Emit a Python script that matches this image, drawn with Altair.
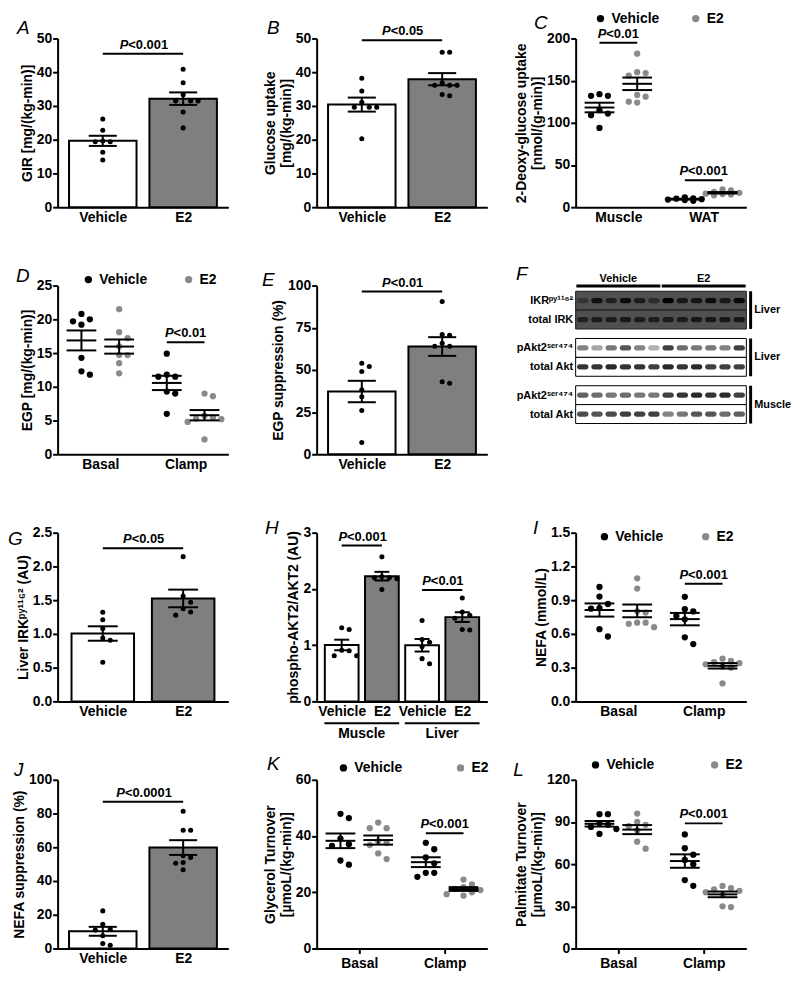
import json
import altair as alt
import pandas as pd

FONT = "Liberation Sans"
PW, PH = 172, 170
COL_GAP, ROW_GAP = 89, 79
GRAY_DOT = "#8a8a8a"
GRAY_BAR = "#7f7f7f"

# ---------------- values ----------------
# A  GIR
A_names = ["Vehicle", "E2"]
A_vehicle = [26.1, 22.8, 19.6, 19.4, 19.4, 16.3, 14.0]
A_e2 = [40.9, 36.9, 33.3, 31.5, 31.5, 31.5, 28.2, 23.5]
A_yticks = [0, 10, 20, 30, 40, 50]
A_sig = [(0, 1, 45.5, "P<0.001")]

# B  Glucose uptake
B_names = ["Vehicle", "E2"]
B_vehicle = [38.2, 34.4, 31.1, 29.6, 29.6, 29.6, 20.3]
B_e2 = [45.9, 45.9, 36.9, 36.1, 36.1, 36.1, 33.4, 33.0]
B_yticks = [0, 10, 20, 30, 40, 50]
B_sig = [(0, 1, 49.5, "P<0.05")]

# C  2-Deoxy-glucose uptake
C_cats = ["Muscle", "WAT"]
C_vehicle = [[134, 132, 132, 115, 111, 109, 94], [11.5, 10.5, 10, 9.5, 9, 8.5, 7.5]]
C_e2 = [[182, 160, 159, 156, 133, 131, 125, 124], [21, 20, 18, 17, 16, 15.5, 15, 14]]
C_yticks = [0, 50, 100, 150, 200]
C_sig = [(0, 1, 195, "P<0.01"), (2, 3, 32, "P<0.001")]

# D  EGP
D_cats = ["Basal", "Clamp"]
D_vehicle = [[20.8, 20.0, 19.7, 19.2, 14.3, 12.3, 11.8], [14.9, 11.8, 11.5, 11.5, 9.3, 9.0, 6.0]]
D_e2 = [[21.5, 18.1, 17.2, 16.0, 14.7, 14.7, 13.5, 12.0], [9.0, 8.6, 5.7, 5.5, 5.3, 5.2, 4.8, 2.2]]
D_yticks = [0, 5, 10, 15, 20, 25]
D_sig = [(2, 3, 16.6, "P<0.01")]

# E  EGP suppression
E_names = ["Vehicle", "E2"]
E_vehicle = [54.0, 52.0, 49.1, 38.3, 34.1, 25.9, 7.0]
E_e2 = [90.5, 71.0, 70.6, 65.8, 64.0, 64.0, 43.0, 42.1]
E_yticks = [0, 25, 50, 75, 100]
E_sig = [(0, 1, 96.5, "P<0.01")]

# F  western blot (relative band intensity per lane)
F_lane_groups = ["Vehicle"] * 6 + ["E2"] * 6
F_rows = ["IKR\u1d56\u02b8\u00b9\u00b9\u2076\u00b2", "total IRK",
          "pAkt2\u02e2\u1d49\u02b3\u2074\u2077\u2074", "total Akt",
          "pAkt2\u02e2\u1d49\u02b3\u2074\u2077\u2074", "total Akt"]
F_row_box = [0, 0, 1, 1, 2, 2]
F_box_tissue = ["Liver", "Liver", "Muscle"]
F_intensity = [
    [0.35, 0.80, 0.60, 0.85, 0.65, 0.45, 1.00, 0.70, 0.75, 0.85, 0.70, 0.90],
    [0.60, 0.65, 0.65, 0.70, 0.65, 0.65, 0.65, 0.65, 0.70, 0.70, 0.70, 0.70],
    [0.55, 0.40, 0.60, 0.75, 0.55, 0.35, 0.85, 0.65, 0.60, 0.60, 0.55, 0.85],
    [0.90, 0.90, 0.95, 0.90, 0.90, 0.85, 0.95, 0.90, 0.95, 0.85, 0.85, 0.85],
    [0.70, 0.65, 0.60, 0.65, 0.60, 0.60, 0.85, 0.90, 0.95, 0.90, 0.95, 0.85],
    [0.80, 0.75, 0.80, 0.85, 0.85, 0.85, 0.55, 0.60, 0.75, 0.75, 0.65, 0.70],
]

# G  Liver IRK pY1162
G_names = ["Vehicle", "E2"]
G_vehicle = [1.32, 1.21, 1.08, 0.94, 0.905, 0.58]
G_e2 = [2.145, 1.563, 1.468, 1.373, 1.326, 1.278]
G_yticks = [0, 0.5, 1.0, 1.5, 2.0, 2.5]
G_sig = [(0, 1, 2.27, "P<0.05")]

# H  phospho-AKT2/AKT2
H_names = ["Vehicle", "E2", "Vehicle", "E2"]
H_values = [[1.31, 1.28, 0.91, 0.90, 0.81, 0.81],
            [2.57, 2.22, 2.20, 2.20, 2.18, 1.99],
            [1.44, 1.10, 1.05, 0.97, 0.76, 0.67],
            [1.84, 1.59, 1.53, 1.48, 1.28, 1.27]]
H_tissues = [("Muscle", [0, 1]), ("Liver", [2, 3])]
H_yticks = [0, 1, 2, 3]
H_sig = [(0, 1, 2.77, "P<0.001"), (2, 3, 1.98, "P<0.01")]

# I  NEFA
I_cats = ["Basal", "Clamp"]
I_vehicle = [[1.017, 0.932, 0.866, 0.83, 0.824, 0.642, 0.577], [0.93, 0.82, 0.80, 0.76, 0.73, 0.57, 0.51]]
I_e2 = [[1.094, 1.003, 0.80, 0.79, 0.70, 0.70, 0.69, 0.66], [0.38, 0.36, 0.35, 0.34, 0.33, 0.31, 0.30, 0.16]]
I_yticks = [0, 0.3, 0.6, 0.9, 1.2, 1.5]
I_sig = [(2, 3, 1.045, "P<0.001")]

# J  NEFA suppression
J_names = ["Vehicle", "E2"]
J_vehicle = [22.3, 14.3, 11.4, 10.9, 7.6, 2.9, 1.9]
J_e2 = [81.3, 70.1, 70.1, 55.0, 54.0, 51.0, 50.5, 46.7]
J_yticks = [0, 20, 40, 60, 80, 100]
J_sig = [(0, 1, 87, "P<0.0001")]

# K  Glycerol turnover
K_cats = ["Basal", "Clamp"]
K_vehicle = [[47.9, 46.4, 39.1, 37.1, 36.5, 31.3, 29.8], [37.6, 35.3, 32.4, 30.3, 26.9, 26.9, 25.5]]
K_e2 = [[44.8, 42.8, 42.8, 38.2, 37.5, 36.8, 33.8, 31.8], [24.5, 22.8, 21.8, 21.2, 20.8, 20.0, 19.3, 18.8]]
K_yticks = [0, 20, 40, 60]
K_sig = [(2, 3, 41, "P<0.001")]

# L  Palmitate turnover
L_cats = ["Basal", "Clamp"]
L_vehicle = [[95.5, 95.5, 89, 88, 86.5, 85, 81.5], [81.1, 71.3, 66.7, 63, 60, 48.7, 44.6]]
L_e2 = [[96, 90, 88, 87, 84, 76, 71], [44.5, 43, 42, 41, 40, 38, 30, 29.5]]
L_yticks = [0, 30, 60, 90, 120]
L_sig = [(2, 3, 89, "P<0.001")]

# ---------------- helpers ----------------
CHAR_W = {"P": 0.667, "<": 0.584, ".": 0.278}
SIG_SIZE = 13


def tw(s, size):
    return sum(CHAR_W.get(c, 0.556) for c in s) * size


def swarm(values, ppu, step, dmin, maxk=2):
    """Deterministic compact beeswarm offsets (pixels)."""
    order = sorted(range(len(values)), key=lambda i: -values[i])
    placed, offs = [], [0.0] * len(values)
    cands = [0.0]
    for j in range(1, maxk + 1):
        cands += [j * step, -j * step]
    for i in order:
        yp = values[i] * ppu
        best, bestd = cands[0], -1.0
        for c in cands:
            d = min((((c - px) ** 2 + (yp - py) ** 2) ** 0.5 for px, py in placed), default=1e9)
            if d >= dmin:
                best = c
                break
            if d > bestd:
                best, bestd = c, d
        placed.append((best, yp))
        offs[i] = best
    return offs


def panel(letter, ldx, ldy, slots, ndom, xnames, yticks, ytitle, sig, kind,
          yfmt=None, legend=None, xticks=False, bar_w=68, cap_hw=15, below=None):
    bar = kind == "bar"
    ymax = yticks[-1]
    ux = PW / ndom
    ppu = PH / ymax
    step, dmin = (8.0, 6.5) if bar else (8.5, 7.5)
    rows = []
    for k, s in enumerate(slots):
        offs = swarm(s["values"], ppu, step, dmin)
        for v, o in zip(s["values"], offs):
            rows.append(dict(slot=k, xc=s["xc"], xp=s["xc"] + o / ux, v=v,
                             grp=s["grp"], fill=s.get("fill", "white")))
    df = pd.DataFrame(rows)

    xs = alt.Scale(domain=[0, ndom], nice=False, zero=False)
    ys = alt.Scale(domain=[0, ymax], nice=False, zero=True)
    xax = alt.Axis(title=None, values=[i + 0.5 for i in range(len(xnames))],
                   labelExpr=f"{json.dumps(xnames)}[floor(datum.value)]",
                   ticks=xticks, labelAngle=0, labelPadding=3, labelOverlap=False,
                   labelFlush=False)
    yk = dict(title=ytitle, values=yticks, labelOverlap=False)
    if yfmt:
        yk["format"] = yfmt
    yax = alt.Axis(**yk)

    def X(f):
        return alt.X(f"{f}:Q", scale=xs, axis=xax)

    def Y(f):
        return alt.Y(f"{f}:Q", scale=ys, axis=yax)

    mw, cw = 15 / ux, cap_hw / ux
    stats = alt.Chart(df).transform_aggregate(
        m="mean(v)", se="stderr(v)", groupby=["slot", "xc", "fill"]
    ).transform_calculate(
        lo="datum.m - datum.se", hi="datum.m + datum.se",
        ml=f"datum.xc - {mw}", mr=f"datum.xc + {mw}",
        cl=f"datum.xc - {cw}", cr=f"datum.xc + {cw}",
    )
    layers = []
    if bar:
        layers.append(stats.mark_bar(width=bar_w, stroke="black", strokeWidth=2).encode(
            x=X("xc"), y=Y("m"), fill=alt.Fill("fill:N", scale=None)))
        color = alt.value("black")
        size = 26
    else:
        color = alt.Color("grp:N", scale=alt.Scale(domain=["Vehicle", "E2"], range=["#000000", GRAY_DOT]),
                          legend=legend)
        size = 40
    layers.append(alt.Chart(df).mark_circle(size=size, opacity=1).encode(x=X("xp"), y=Y("v"), color=color))
    if not bar:
        layers.append(stats.mark_rule(strokeWidth=2, color="black").encode(x=X("ml"), x2="mr:Q", y=Y("m")))
    layers.append(stats.mark_rule(strokeWidth=2, color="black").encode(x=X("xc"), y=Y("lo"), y2="hi:Q"))
    layers.append(stats.mark_rule(strokeWidth=2, color="black").encode(x=X("cl"), x2="cr:Q", y=Y("lo")))
    layers.append(stats.mark_rule(strokeWidth=2, color="black").encode(x=X("cl"), x2="cr:Q", y=Y("hi")))

    # significance annotations
    srows = []
    for i, j, y, lab in sig:
        x1, x2 = slots[i]["xc"], slots[j]["xc"]
        rest = lab[1:]
        xsplit = (x1 + x2) / 2 + (tw("P", SIG_SIZE) - tw(rest, SIG_SIZE)) / 2 / ux
        srows.append(dict(x1=x1, x2=x2, y=y, xs=xsplit, p="P", rest=rest))
    sdf = pd.DataFrame(srows)
    sc = alt.Chart(sdf)
    layers.append(sc.mark_rule(strokeWidth=2, color="black").encode(x=X("x1"), x2="x2:Q", y=Y("y")))
    layers.append(sc.mark_text(font=FONT, fontSize=SIG_SIZE, fontWeight="bold", fontStyle="italic",
                               align="right", baseline="alphabetic", dy=-5, color="black").encode(
        x=X("xs"), y=Y("y"), text="p:N"))
    layers.append(sc.mark_text(font=FONT, fontSize=SIG_SIZE, fontWeight="bold",
                               align="left", baseline="alphabetic", dy=-5, color="black").encode(
        x=X("xs"), y=Y("y"), text="rest:N"))

    if below:
        brow = []
        for name, idx in below:
            c = sum(slots[i]["xc"] for i in idx) / len(idx)
            brow.append(dict(t=name, c=c, a=c - 0.93, b=c + 0.93))
        bc = alt.Chart(pd.DataFrame(brow))
        layers.append(bc.mark_rule(strokeWidth=2, color="black").encode(x=X("a"), x2="b:Q", y=alt.value(PH + 22)))
        layers.append(bc.mark_text(font=FONT, fontSize=14, fontWeight="bold", baseline="top", color="black").encode(
            x=X("c"), y=alt.value(PH + 26), text="t:N"))

    return alt.layer(*layers).properties(
        width=PW, height=PH,
        title=alt.TitleParams(text=letter, anchor="start", frame="group", dx=ldx, dy=ldy, offset=0,
                              fontSize=19, fontStyle="italic", fontWeight="normal", font=FONT, color="black"))


def bar_slots(names, lists):
    return [dict(xc=k + 0.5, grp=n, values=v, fill="white" if n == "Vehicle" else GRAY_BAR)
            for k, (n, v) in enumerate(zip(names, lists))]


def dot_slots(veh, e2, gap_px=19):
    ux = PW / 2
    out = []
    for k, (v, e) in enumerate(zip(veh, e2)):
        out.append(dict(xc=k + 0.5 - gap_px / ux, grp="Vehicle", values=v))
        out.append(dict(xc=k + 0.5 + gap_px / ux, grp="E2", values=e))
    return out


def leg(x, y, pad):
    return alt.Legend(orient="none", legendX=x, legendY=y, direction="horizontal", title=None,
                      columnPadding=pad)


# ---------------- panels ----------------
pA = panel("A", -41, 7, bar_slots(A_names, [A_vehicle, A_e2]), 2, A_names, A_yticks,
           "GIR [mg/(kg-min)]", A_sig, "bar")
pB = panel("B", -50, 13, bar_slots(B_names, [B_vehicle, B_e2]), 2, B_names, B_yticks,
           ["Glucose uptake", "[mg/(kg-min)]"], B_sig, "bar")
pC = panel("C", -42, 21, dot_slots(C_vehicle, C_e2), 2, C_cats, C_yticks,
           ["2-Deoxy-glucose uptake", "[nmol/(g-min)]"], C_sig, "dot", legend=leg(18, -27, 29))
pD = panel("D", -42, 13, dot_slots(D_vehicle, D_e2), 2, D_cats, D_yticks,
           "EGP [mg/(kg-min)]", D_sig, "dot", legend=leg(24, -13, 34))
pE = panel("E", -55, 13, bar_slots(E_names, [E_vehicle, E_e2]), 2, E_names, E_yticks,
           "EGP suppression (%)", E_sig, "bar")
pG = panel("G", -50, 23, bar_slots(G_names, [G_vehicle, G_e2]), 2, G_names, G_yticks,
           "Liver IRK\u1d56\u02b8\u00b9\u00b9\u2076\u00b2 (AU)", G_sig, "bar", yfmt=".1f", bar_w=63, cap_hw=16)
pH = panel("H", -52, 12, bar_slots(H_names, H_values), 4, H_names, H_yticks,
           "phospho-AKT2/AKT2 (AU)", H_sig, "bar", bar_w=34, cap_hw=8, below=H_tissues)
pI = panel("I", -43, 12, dot_slots(I_vehicle, I_e2), 2, I_cats, I_yticks,
           "NEFA (mmol/L)", I_sig, "dot", yfmt=".1f", legend=leg(22, -3, 35))
pJ = panel("J", -44, 7, bar_slots(J_names, [J_vehicle, J_e2]), 2, J_names, J_yticks,
           "NEFA suppression (%)", J_sig, "bar")
pK = panel("K", -50, 13, dot_slots(K_vehicle, K_e2), 2, K_cats, K_yticks,
           ["Glycerol Turnover", "[\u00b5moL/(kg-min)]"], K_sig, "dot", legend=leg(20, -19, 51), xticks=True)
pL = panel("L", -63, 22, dot_slots(L_vehicle, L_e2), 2, L_cats, L_yticks,
           ["Palmitate Turnover", "[\u00b5moL/(kg-min)]"], L_sig, "dot", legend=leg(13, -22, 53), xticks=True)

# ---- F: blot panel ----
n_lanes = len(F_lane_groups)
ypos = [i + 0.5 * b for i, b in enumerate(F_row_box)]
row_df = pd.DataFrame(dict(
    y0=[p - 0.5 for p in ypos], y1=[p + 0.5 for p in ypos],
    x0=[0.5] * len(ypos), x1=[n_lanes + 0.5] * len(ypos),
    bg=["#505050" if b == 0 else "white" for b in F_row_box],
    st=["#1a1a1a" if b == 0 else "black" for b in F_row_box]))
band_rows = []
for r, (p, inten) in enumerate(zip(ypos, F_intensity)):
    for lane, val in enumerate(inten, start=1):
        band_rows.append(dict(a=lane - 0.4, b=lane + 0.4, y0=p - 0.14, y1=p + 0.14, o=val,
                              col="#000000" if F_row_box[r] == 0 else "#1e1e1e"))
band_df = pd.DataFrame(band_rows)
hdr = []
for g in ["Vehicle", "E2"]:
    lanes = [i + 1 for i, x in enumerate(F_lane_groups) if x == g]
    hdr.append(dict(g=g, a=min(lanes) - 0.45, b=max(lanes) + 0.45, c=sum(lanes) / len(lanes), y=-0.78))
hdr_df = pd.DataFrame(hdr)
side = []
for bi, t in enumerate(F_box_tissue):
    ps = [p for p, b in zip(ypos, F_row_box) if b == bi]
    side.append(dict(t=t, top=min(ps) - 0.5, bot=max(ps) + 0.5, mid=(min(ps) + max(ps)) / 2,
                     xr=n_lanes + 0.5 + 0.3, xt=n_lanes + 0.5 + 0.55))
side_df = pd.DataFrame(side)

fxs = alt.Scale(domain=[0.5, n_lanes + 0.5], nice=False, zero=False)
fys = alt.Scale(domain=[-0.8, 6.5], reverse=True, nice=False, zero=False)
fyax = alt.Axis(values=ypos, title=None, ticks=False, domain=False, labelFontSize=11, labelPadding=3,
                labelOverlap=False, labelFlush=False,
                labelExpr=f"{json.dumps(F_rows)}[indexof({json.dumps(ypos)}, datum.value)]")


def FX(f):
    return alt.X(f"{f}:Q", scale=fxs, axis=None)


def FY(f):
    return alt.Y(f"{f}:Q", scale=fys, axis=fyax)


pF = alt.layer(
    alt.Chart(row_df).mark_rect(strokeWidth=1).encode(
        x=FX("x0"), x2="x1:Q", y=FY("y0"), y2="y1:Q",
        fill=alt.Fill("bg:N", scale=None), stroke=alt.Stroke("st:N", scale=None)),
    alt.Chart(band_df).mark_rect(cornerRadius=2.5).encode(
        x=FX("a"), x2="b:Q", y=FY("y0"), y2="y1:Q",
        fill=alt.Fill("col:N", scale=None), opacity=alt.Opacity("o:Q", scale=None)),
    alt.Chart(hdr_df).mark_rule(strokeWidth=3, color="black").encode(x=FX("a"), x2="b:Q", y=FY("y")),
    alt.Chart(hdr_df).mark_text(font=FONT, fontSize=11, fontWeight="bold", baseline="alphabetic", dy=-4,
                                color="black").encode(x=FX("c"), y=FY("y"), text="g:N"),
    alt.Chart(side_df).mark_rule(strokeWidth=3, color="black").encode(x=FX("xr"), y=FY("top"), y2="bot:Q"),
    alt.Chart(side_df).mark_text(font=FONT, fontSize=11, fontWeight="bold", align="left", baseline="middle",
                                 color="black").encode(x=FX("xt"), y=FY("mid"), text="t:N"),
).properties(
    width=PW, height=139,
    title=alt.TitleParams(text="F", anchor="start", frame="group", dx=-60, dy=11, offset=0,
                          fontSize=19, fontStyle="italic", fontWeight="normal", font=FONT, color="black"))

chart = alt.concat(
    pA, pB, pC, pD, pE, pF, pG, pH, pI, pJ, pK, pL,
    columns=3, spacing={"row": ROW_GAP, "column": COL_GAP}, bounds="flush",
).resolve_scale(color="independent").resolve_legend(color="independent").properties(
    padding=0, background="white"
).configure_view(stroke=None).configure_axis(
    labelFont=FONT, labelFontSize=14, labelFontWeight="bold", labelColor="black",
    titleFont=FONT, titleFontSize=14, titleFontWeight="bold", titleColor="black",
    titleLineHeight=16, titlePadding=2, labelPadding=1,
    domainColor="black", domainWidth=2, tickColor="black", tickWidth=2, tickSize=5, grid=False,
).configure_legend(
    labelFont=FONT, labelFontSize=14, labelFontWeight="bold", labelColor="black",
    symbolType="circle", symbolSize=55, symbolStrokeWidth=0, padding=0, labelOffset=4,
)

chart.save("out.html", embed_options={"renderer": "svg", "actions": False})
